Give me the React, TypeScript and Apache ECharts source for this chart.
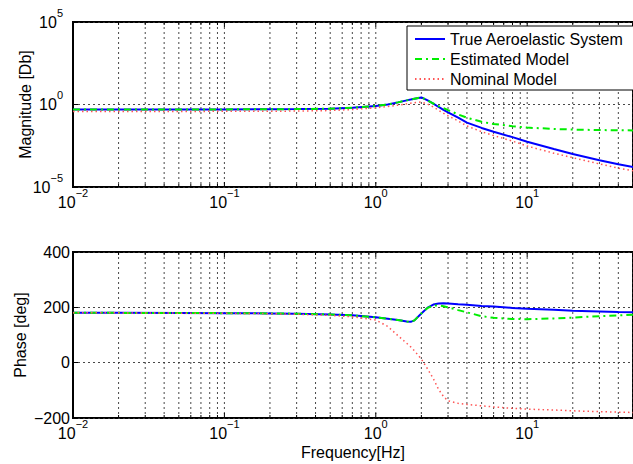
import React, { useEffect, useRef } from 'react';
import * as echarts from 'echarts';

const FONT = "'Liberation Sans', Arial, Helvetica, sans-serif";

// Frequency samples (Hz)
const freqHz = [0.01, 0.02, 0.05, 0.1, 0.2, 0.3, 0.5, 0.7, 1, 1.2, 1.4, 1.6, 1.7, 1.8, 2, 2.2, 2.4, 2.6, 2.8, 3, 3.5, 4, 5, 6, 8, 10, 15, 20, 30, 40, 50];

// Magnitude (linear)
const magTrue = [0.501, 0.501, 0.501, 0.506, 0.513, 0.525, 0.562, 0.646, 0.813, 1.0, 1.349, 1.778, 1.995, 2.239, 2.692, 1.778, 1.122, 0.708, 0.468, 0.331, 0.158, 0.0794, 0.038, 0.0224, 0.0105, 0.0055, 0.002, 0.001, 4.2e-4, 2.4e-4, 1.6e-4];
const magEstimated = [0.501, 0.501, 0.501, 0.506, 0.513, 0.525, 0.562, 0.646, 0.813, 1.0, 1.349, 1.778, 1.995, 2.239, 2.692, 1.778, 1.148, 0.794, 0.603, 0.457, 0.251, 0.158, 0.0891, 0.0661, 0.0479, 0.0398, 0.0331, 0.0302, 0.0282, 0.0275, 0.0269];
const magNominal = [0.38, 0.38, 0.38, 0.385, 0.39, 0.4, 0.43, 0.5, 0.631, 0.759, 0.912, 1.096, 1.202, 1.288, 1.413, 1.047, 0.708, 0.447, 0.295, 0.209, 0.1, 0.0501, 0.0224, 0.0132, 0.00603, 0.00302, 0.00112, 6.0e-4, 2.5e-4, 1.4e-4, 9.5e-5];

// Phase (deg)
const phaseTrue = [180, 180, 179.5, 179, 178, 177, 174, 171, 164, 159, 154, 149, 147.5, 153, 178, 199, 210, 214, 215, 214, 211, 209, 205, 203, 198, 195, 191, 188, 185, 183, 182];
const phaseEstimated = [180, 180, 179.5, 179, 178, 177, 174, 171, 164, 159, 154, 149, 147.5, 153, 178, 198, 206, 207, 204, 200, 190, 182, 168, 162, 158, 157, 160, 163, 168, 171, 173];
const phaseNominal = [180, 180, 179, 178.5, 177, 175, 171, 166, 154, 131, 98, 70, 57, 43, 13, -23, -58, -97, -122, -138, -147, -151, -156, -160, -165, -168, -171, -174, -177, -179, -180];

const seriesNames = ['True Aeroelastic System', 'Estimated Model', 'Nominal Model'];

// Axis ranges / ticks
const freqMin = 0.01;
const freqMax = 50;
const magMin = 1e-5;
const magMax = 1e5;
const phaseTicks = [-200, 0, 200, 400];

// x grid positions: 1..9 x each decade within range
const decades = [0.01, 0.1, 1, 10];
const multipliers = [1, 2, 3, 4, 5, 6, 7, 8, 9];

const richPow = {
  b: { fontSize: 16, lineHeight: 30, verticalAlign: 'middle', fontFamily: FONT, color: '#000' },
  s: { fontSize: 11, lineHeight: 11, verticalAlign: 'top', fontFamily: FONT, color: '#000' },
};

const powLabel = (v: number) => {
  const e = Math.log10(v);
  const r = Math.round(e);
  if (Math.abs(e - r) > 1e-6) return '';
  const ex = r < 0 ? '\u2212' + Math.abs(r) : String(r);
  return `{b|10}{s|${ex}}`;
};

export default function App() {
  const ref = useRef<HTMLDivElement>(null);
  useEffect(() => {
    if (!ref.current) return;
    const chart = echarts.init(ref.current, undefined, { renderer: 'svg' });

    const xGridTicks: number[][] = [];
    decades.forEach((d) =>
      multipliers.forEach((m) => {
        const v = +(d * m).toPrecision(6);
        if (v >= freqMin && v <= freqMax) xGridTicks.push([v]);
      })
    );

    const gridSeries = (idx: number, yRef: number) => ({
      type: 'custom',
      xAxisIndex: idx,
      yAxisIndex: idx,
      silent: true,
      z: 1,
      data: xGridTicks.map((t) => [t[0], yRef]),
      encode: { x: 0, y: 1 },
      renderItem: (params: any, api: any) => {
        const v = api.value(0) as number;
        const cs = params.coordSys;
        const px = api.coord([v, api.value(1)])[0];
        const e = Math.log10(v);
        const major = Math.abs(e - Math.round(e)) < 1e-6;
        const top = cs.y;
        const bot = cs.y + cs.height;
        const tl = major ? 5 : 3;
        const children: any[] = [];
        if (px > cs.x + 1) {
          children.push({
            type: 'line',
            shape: { x1: px, y1: top, x2: px, y2: bot },
            style: { stroke: '#333', lineWidth: 0.9, lineDash: [2, 3] },
          });
        }
        children.push({ type: 'line', shape: { x1: px, y1: bot, x2: px, y2: bot - tl }, style: { stroke: '#000', lineWidth: 1 } });
        children.push({ type: 'line', shape: { x1: px, y1: top, x2: px, y2: top + tl }, style: { stroke: '#000', lineWidth: 1 } });
        return { type: 'group', children };
      },
    });

    const lineStyles = [
      { color: '#0000ff', width: 2, type: 'solid' },
      { color: '#00ee00', width: 2, type: [7, 4, 2, 4] },
      { color: '#ff5555', width: 1.5, type: [1.5, 3] },
    ];

    const mags = [magTrue, magEstimated, magNominal];
    const phases = [phaseTrue, phaseEstimated, phaseNominal];

    const lineSeries: any[] = [];
    [0, 1].forEach((g) => {
      seriesNames.forEach((name, i) => {
        const vals = g === 0 ? mags[i] : phases[i];
        lineSeries.push({
          name,
          type: 'line',
          xAxisIndex: g,
          yAxisIndex: g,
          showSymbol: false,
          symbol: 'none',
          z: 3 + i,
          itemStyle: { color: lineStyles[i].color },
          lineStyle: { ...lineStyles[i] },
          data: freqHz.map((f, k) => [f, vals[k]]),
        });
      });
    });

    const xAxisBase = (gridIndex: number) => ({
      type: 'log',
      logBase: 10,
      gridIndex,
      min: freqMin,
      max: freqMax,
      axisLine: { show: false },
      axisTick: { show: false },
      splitLine: { show: false },
      axisLabel: {
        margin: 0,
        showMaxLabel: false,
        formatter: powLabel,
        rich: richPow,
      },
    });

    const splitLineStyle = { show: true, lineStyle: { color: '#333', width: 0.9, type: [2, 3] } };

    chart.setOption({
      animation: false,
      backgroundColor: '#fff',
      textStyle: { fontFamily: FONT },
      grid: [
        { left: 73, top: 22, width: 566, height: 165, show: true, borderColor: '#000', borderWidth: 2, backgroundColor: 'transparent' },
        { left: 73, top: 252, width: 566, height: 166, show: true, borderColor: '#000', borderWidth: 2, backgroundColor: 'transparent' },
      ],
      legend: {
        orient: 'vertical',
        left: 407,
        top: 26,
        data: seriesNames,
        itemWidth: 30,
        itemHeight: 16,
        itemGap: 4,
        padding: [5, 13, 3, 7],
        borderColor: '#000',
        borderWidth: 1,
        backgroundColor: '#fff',
        borderRadius: 0,
        selectedMode: false,
        itemStyle: { opacity: 0 },
        textStyle: { fontSize: 16, fontFamily: FONT, color: '#000', lineHeight: 16 },
        z: 10,
      },
      xAxis: [
        xAxisBase(0),
        {
          ...xAxisBase(1),
          name: 'Frequency[Hz]',
          nameLocation: 'middle',
          nameGap: 26,
          nameTextStyle: { fontSize: 16, fontFamily: FONT, color: '#000' },
        },
      ],
      yAxis: [
        {
          type: 'log',
          logBase: 10,
          gridIndex: 0,
          min: magMin,
          max: magMax,
          splitNumber: 2,
          axisLine: { show: false },
          axisTick: { show: true, inside: true, length: 5, lineStyle: { color: '#000', width: 1 } },
          splitLine: splitLineStyle,
          axisLabel: { margin: 10, formatter: powLabel, rich: richPow },
          name: 'Magnitude [Db]',
          nameLocation: 'middle',
          nameGap: 40,
          nameMoveOverlap: false,
          nameTextStyle: { fontSize: 16, fontFamily: FONT, color: '#000' },
        },
        {
          type: 'value',
          gridIndex: 1,
          min: phaseTicks[0],
          max: phaseTicks[phaseTicks.length - 1],
          interval: 200,
          axisLine: { show: false },
          axisTick: { show: true, inside: true, length: 5, lineStyle: { color: '#000', width: 1 } },
          splitLine: splitLineStyle,
          axisLabel: {
            margin: 3,
            fontSize: 16,
            fontFamily: FONT,
            color: '#000',
            formatter: (v: number) => (v < 0 ? '\u2212' + Math.abs(v) : String(v)),
          },
          name: 'Phase [deg]',
          nameLocation: 'middle',
          nameGap: 45,
          nameMoveOverlap: false,
          nameTextStyle: { fontSize: 16, fontFamily: FONT, color: '#000' },
        },
      ],
      series: [gridSeries(0, 1), gridSeries(1, 0), ...lineSeries],
    });

    return () => chart.dispose();
  }, []);

  return <div ref={ref} style={{ position: 'absolute', left: 0, top: 0, width: 633, height: 464 }} />;
}
